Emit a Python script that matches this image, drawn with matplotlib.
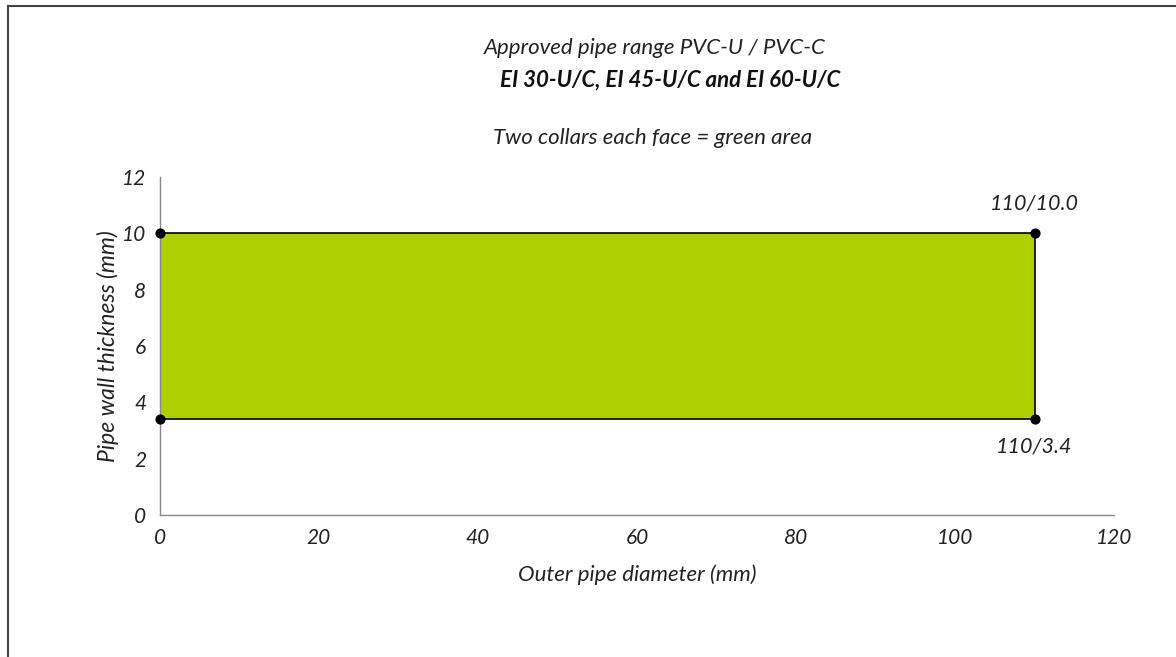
import matplotlib.pyplot as plt
from matplotlib.lines import Line2D

# Datos del gráfico
diam = [0, 110]          # diámetro exterior (mm)
espesor_min = 3.4        # espesor mínimo (mm)
espesor_max = 10.0       # espesor máximo (mm)
etiquetas = ['110/10.0', '110/3.4']
xticks = [0, 20, 40, 60, 80, 100, 120]
yticks = [0, 2, 4, 6, 8, 10, 12]

plt.rcParams['font.family'] = ['Lato', 'DejaVu Sans']
plt.rcParams['font.style'] = 'italic'

fig = plt.figure(figsize=(11.76, 6.57), dpi=100)
ax = fig.add_axes([160 / 1176, 1 - 515 / 657, (1114 - 160) / 1176, (515 - 177) / 657])

# Área verde
ax.fill_between(diam, espesor_min, espesor_max, color='#aecf00', linewidth=0, zorder=2)
ax.plot(diam, [espesor_max, espesor_max], color='black', lw=1.2, zorder=3)
ax.plot(diam, [espesor_min, espesor_min], color='black', lw=1.2, zorder=3)
ax.plot([diam[1], diam[1]], [espesor_min, espesor_max], color='black', lw=1.2, zorder=3)
ax.scatter([diam[0], diam[0], diam[1], diam[1]],
           [espesor_max, espesor_min, espesor_max, espesor_min],
           s=40, color='black', zorder=4, clip_on=False)

ax.text(diam[1], espesor_max + 0.7, etiquetas[0], ha='center', va='bottom', fontsize=15.5, color='#222222')
ax.text(diam[1], espesor_min - 0.6, etiquetas[1], ha='center', va='top', fontsize=15.5, color='#222222')

ax.set_xlim(0, 120)
ax.set_ylim(0, 12)
ax.set_xticks(xticks)
ax.set_yticks(yticks)
ax.tick_params(length=0, labelsize=15, colors='#222222', pad=9)
ax.tick_params(axis='y', pad=10)
for s in ['top', 'right']:
    ax.spines[s].set_visible(False)
for s in ['left', 'bottom']:
    ax.spines[s].set_color('#888888')
    ax.spines[s].set_linewidth(1.0)

ax.set_xlabel('Outer pipe diameter (mm)', fontsize=16, color='#222222', labelpad=12)
ax.set_ylabel('Pipe wall thickness (mm)', fontsize=16.5, color='#222222', labelpad=2)

# Títulos
fig.text(655 / 1176, 1 - 48 / 657, 'Approved pipe range PVC-U / PVC-C', ha='center', va='center', fontsize=16, color='#222222')
fig.text(670 / 1176, 1 - 80 / 657, 'EI 30-U/C, EI 45-U/C and EI 60-U/C', ha='center', va='center',
         fontsize=16, weight='bold', color='#111111')
fig.text(653 / 1176, 1 - 138 / 657, 'Two collars each face = green area', ha='center', va='center', fontsize=16, color='#222222')

# Marco exterior
fig.add_artist(Line2D([8 / 1176, 1], [1 - 6 / 657, 1 - 6 / 657], color='#444444', lw=1.5))
fig.add_artist(Line2D([8 / 1176, 8 / 1176], [1 - 6 / 657, 0], color='#444444', lw=1.5))

fig.savefig('out.png', dpi=100)
